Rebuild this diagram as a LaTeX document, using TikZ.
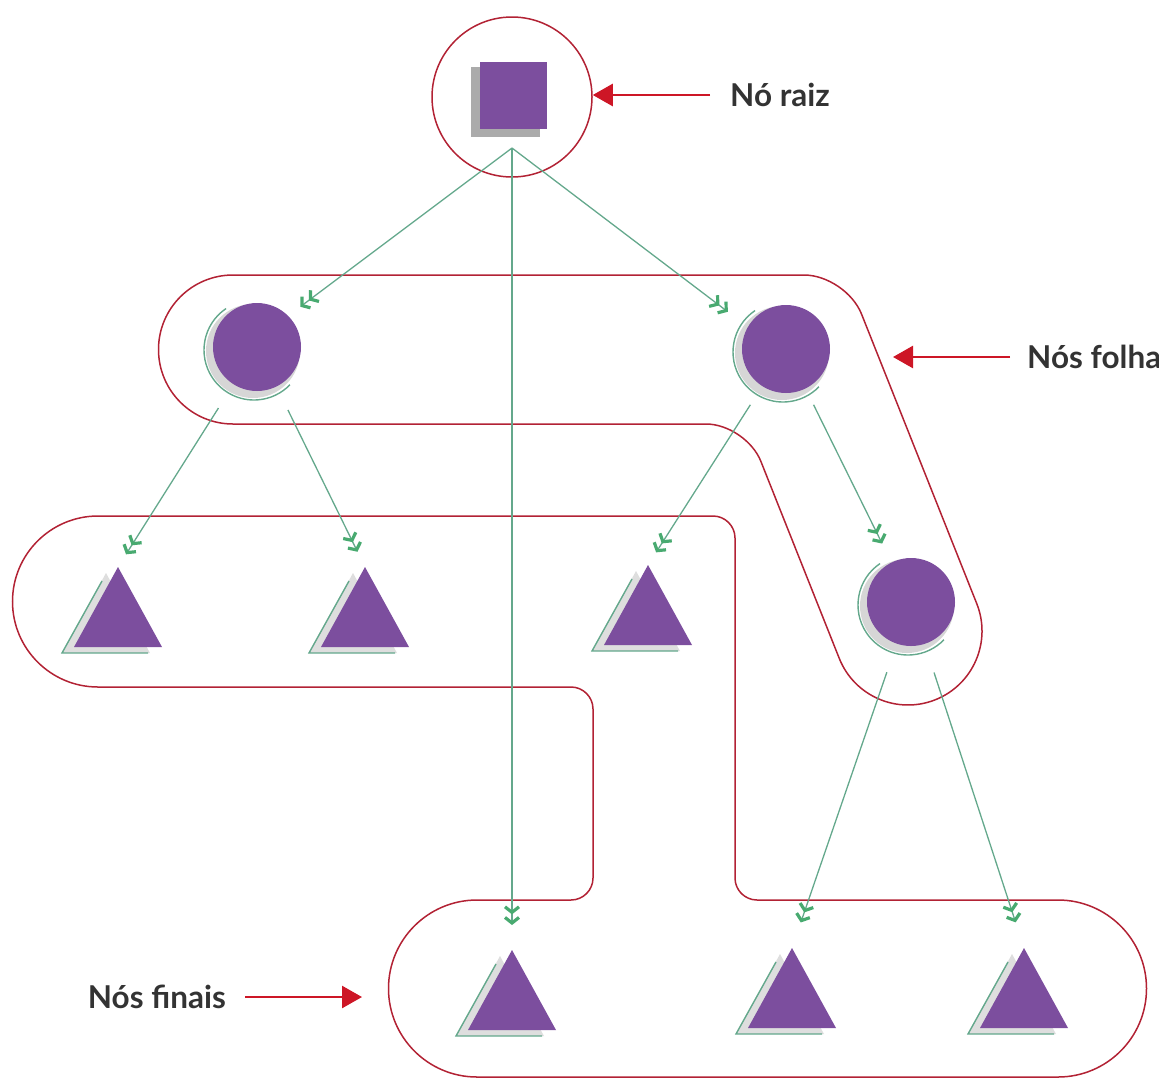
\documentclass[tikz,border=0pt]{standalone}
\usepackage{fontspec}
\setmainfont{Lato}
\usetikzlibrary{arrows.meta,calc}
\definecolor{regred}{RGB}{178,34,52}
\definecolor{arrred}{RGB}{205,22,38}
\definecolor{purp}{RGB}{124,78,158}
\definecolor{conng}{RGB}{100,168,140}
\definecolor{chevg}{RGB}{72,170,112}
\definecolor{txt}{RGB}{51,51,51}
\newcommand{\mybub}[2]{%
  \fill[black!16] ($#2+(-4,-4)$) circle[radius=47];
  \node[bub] (#1) at #2 {};
  \draw[arcg] ($#2+(-3,-3)$) ++(124:50) arc[start angle=124,end angle=316,radius=50];
}
\newcommand{\mytri}[2]{%
  \coordinate (#1) at #2;
  \fill[black!13] ([shift={(-12,-6)}]#1) -- ++(44,-80) -- ++(-88,0) -- cycle;
  \draw[arcg] ([shift={(-16,-14)}]#1) -- ([shift={(-56,-86)}]#1) -- ([shift={(30,-86)}]#1);
  \fill[purp] (#1) -- ++(44,-80) -- ++(-88,0) -- cycle;
}
\begin{document}
\begin{tikzpicture}[x=1pt,y=1pt,
  region/.style={draw=regred,line width=1.5pt},
  conn/.style={draw=conng,line width=1.3pt,
    -{Straight Barb[color=chevg,length=5.5pt,width=14pt,line width=3.2pt,sep=1.5pt]Straight Barb[color=chevg,length=5.5pt,width=14pt,line width=3.2pt]}},
  arcg/.style={draw=conng,line width=1.4pt},
  rarrow/.style={draw=arrred,line width=2.6pt,-{Triangle[length=20pt,width=22pt]}},
  lbl/.style={font=\fontsize{31.5}{36}\selectfont\bfseries,text=txt,inner sep=0pt},
  bub/.style={circle,fill=purp,minimum size=88pt,inner sep=0pt},
]
\useasboundingbox (0,-1080) rectangle (1159,0);

% regions
\node[circle,draw=regred,line width=1.5pt,minimum size=160pt,inner sep=0pt] (rootc) at (512,-97) {};
\draw[region] (500,-275) -- (804,-275) .. controls (827.2,-275) and (852.9,-292.5) .. (861.5,-314.0)
  -- (976.7,-603.5)
  arc[start angle=21.8,end angle=-158.2,radius=74] -- (760.8,-461.2)
  .. controls (752.6,-440.7) and (728.1,-424) .. (706,-424) -- (233,-424)
  arc[start angle=270,end angle=90,radius=74.5] -- cycle;
\draw[region] (400,-516) -- (713,-516) .. controls (725.1,-516) and (735,-525.9) .. (735,-538)
  -- (735,-878) .. controls (735,-890.1) and (744.9,-900) .. (757,-900) -- (1058,-900)
  arc[start angle=90,end angle=-90,radius=88.5] -- (477,-1077)
  arc[start angle=270,end angle=90,radius=88.5] -- (571,-900)
  .. controls (583.1,-900) and (593,-890.1) .. (593,-878) -- (593,-709)
  .. controls (593,-696.9) and (583.1,-687) .. (571,-687) -- (98,-687)
  arc[start angle=270,end angle=90,radius=85.5] -- cycle;

% root square
\fill[black!33] (471,-67) rectangle (540,-137);
\node[fill=purp,minimum size=67pt,inner sep=0pt] (root) at (513.5,-95.5) {};

% bubbles
\mybub{c1}{(257,-347)}
\mybub{c2}{(786,-349)}
\mybub{c3}{(911,-602)}

% triangles
\mytri{t1}{(118,-567)}
\mytri{t2}{(365,-567)}
\mytri{t3}{(648,-565)}
\mytri{t4}{(512,-950)}
\mytri{t5}{(792,-948)}
\mytri{t6}{(1024,-948)}

% connectors
\coordinate (hub) at (512,-148);
\draw[conn,shorten >=15pt] (hub) -- (c1.north east);
\draw[conn,shorten >=25pt] (hub) -- (c2.150);
\draw[conn,shorten >=25pt] (hub) -- (t4);
\draw[conn,shorten <=28pt,shorten >=15pt] (c1) -- (t1);
\draw[conn,shorten <=26pt,shorten >=17pt] (c1) -- (t2);
\draw[conn,shorten <=22pt,shorten >=15pt] (c2) -- (t3);
\draw[conn,shorten <=18pt,shorten >=21pt] (c2) -- (c3);
\draw[conn,shorten <=30pt,shorten >=27pt] (c3) -- (t5);
\draw[conn,shorten <=30pt,shorten >=27pt] (c3) -- (t6);

% labels
\node[lbl,anchor=west] (lraiz) at (730,-95) {Nó raiz};
\node[lbl,anchor=west] (lfolha) at (1027,-357) {Nós folha};
\node[lbl,anchor=east] (lfinais) at (226,-997) {Nós finais};
\coordinate (folhatip) at (893,-357);
\coordinate (finaistip) at (362,-997);
\draw[rarrow,shorten <=20pt] (lraiz.west) -- (lraiz.west -| rootc.east);
\draw[rarrow,shorten <=17pt] (lfolha.west) -- (folhatip);
\draw[rarrow,shorten <=19pt] (lfinais.east) -- (finaistip);
\end{tikzpicture}
\end{document}
